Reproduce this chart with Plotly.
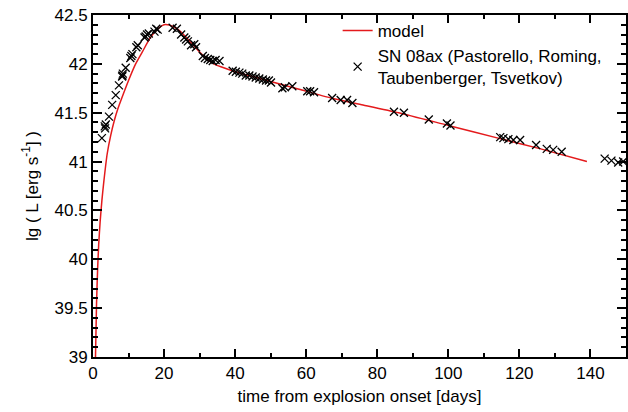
import plotly.graph_objects as go

# model light curve (time in days, lg L)
model_t = [0.7, 1.0, 1.3, 1.6, 2.0, 2.5, 3.0, 4.0, 5.0, 6.0, 7.0, 8.0, 10.0, 12.0, 14.0, 16.0, 18.0,
           20.0, 21.0, 22.0, 24.0, 26.0, 28.0, 30.0, 32.0, 34.0, 36.0, 40.0, 46.0, 50.0, 58.0,
           67.0, 76.0, 86.0, 100.0, 114.0, 126.0, 139.0]
model_lgL = [39.0, 39.55, 39.9, 40.15, 40.38, 40.6, 40.78, 41.08, 41.27, 41.42, 41.54, 41.64, 41.83,
             42.0, 42.13, 42.26, 42.35, 42.40, 42.40, 42.39, 42.35, 42.28, 42.20, 42.12, 42.05,
             42.0, 41.97, 41.92, 41.86, 41.82, 41.74, 41.65, 41.58, 41.50, 41.37, 41.24, 41.13, 41.0]

# SN 2008ax observations
obs_t = [2.5, 3.3, 3.4, 3.6, 4.5, 5.4, 6.4, 7.3, 8.2, 8.3, 8.4, 9.2, 10.5, 10.8, 11.1, 12.2, 12.6,
         14.5, 14.8, 15.2, 15.7, 17.3, 17.8, 18.2,
         22.4, 23.6, 24.8, 25.7, 26.2, 26.7, 27.6, 28.5, 29.0, 30.9, 31.5, 32.3, 33.0, 33.7, 34.5, 35.6,
         39.3, 40.2, 41.2, 42.0, 43.0, 44.0, 44.9, 45.8, 46.8, 47.8, 48.7, 49.5, 50.1,
         53.3, 54.0, 56.1, 60.3, 61.1, 62.2, 67.3, 69.7, 71.5, 73.0,
         84.7, 87.5, 94.5, 99.6, 100.6,
         114.6, 115.5, 116.9, 118.3, 120.2, 124.7, 127.7, 129.5, 131.9,
         144.0, 145.9, 147.8, 149.2]
obs_lgL = [41.24, 41.36, 41.34, 41.38, 41.46, 41.58, 41.68, 41.78, 41.87, 41.88, 41.90, 41.96, 42.06,
           42.08, 42.10, 42.17, 42.19, 42.27, 42.28, 42.30, 42.31, 42.33, 42.36, 42.35,
           42.37, 42.36, 42.30, 42.27, 42.25, 42.23, 42.19, 42.20, 42.17, 42.08, 42.06, 42.05, 42.04,
           42.03, 42.04, 42.03,
           41.93, 41.92, 41.91, 41.90, 41.88, 41.88, 41.87, 41.86, 41.85, 41.84, 41.83, 41.83, 41.81,
           41.75, 41.76, 41.77, 41.72, 41.72, 41.71, 41.65, 41.63, 41.63, 41.60,
           41.51, 41.50, 41.43, 41.39, 41.37,
           41.25, 41.24, 41.23, 41.22, 41.22, 41.17, 41.13, 41.12, 41.10,
           41.03, 41.01, 40.99, 41.00]

FONT = "Liberation Sans, Arial, Helvetica, sans-serif"
FS = 17

fig = go.Figure()
fig.add_trace(go.Scatter(x=model_t, y=model_lgL, mode="lines", name="model",
                         line=dict(color="#e41a1c", width=1.5, shape="spline", smoothing=0.6)))
fig.add_trace(go.Scatter(x=obs_t, y=obs_lgL, mode="markers",
                         name="SN 08ax (Pastorello, Roming,<br>Taubenberger, Tsvetkov)",
                         marker=dict(symbol="x-thin-open", size=8, color="black",
                                     line=dict(color="black", width=1.3))))

axis_common = dict(showgrid=False, zeroline=False, showline=True, linecolor="black", linewidth=2,
                   mirror="ticks", ticks="inside", tickcolor="black", tickwidth=2,
                   tickfont=dict(family=FONT, size=FS, color="black"))

fig.update_xaxes(range=[0, 150], dtick=20, tick0=0, ticklen=8,
                 minor=dict(dtick=10, ticks="inside", ticklen=4, tickcolor="black", tickwidth=2),
                 title=dict(text="time from explosion onset [days]",
                            font=dict(family=FONT, size=FS, color="black"), standoff=8),
                 **axis_common)
fig.update_yaxes(range=[39, 42.5], dtick=0.5, tick0=39, ticklen=9,
                 minor=dict(dtick=0.1, ticks="inside", ticklen=5, tickcolor="black", tickwidth=2),
                 title=dict(text="lg ( L [erg s<sup>-1</sup>] )",
                            font=dict(family=FONT, size=FS, color="black"), standoff=12),
                 **axis_common)

fig.update_layout(
    width=628, height=412,
    margin=dict(l=93, r=2, t=15, b=55, autoexpand=False),
    plot_bgcolor="white", paper_bgcolor="white",
    font=dict(family=FONT, size=FS, color="black"),
    legend=dict(x=0.459, y=1.006, xanchor="left", yanchor="top", bgcolor="rgba(0,0,0,0)",
                font=dict(family=FONT, size=FS, color="black"), tracegroupgap=0),
    showlegend=True,
)

fig.write_html("out.html", config={"displayModeBar": False},
               post_script="document.body.style.margin='0px';")
